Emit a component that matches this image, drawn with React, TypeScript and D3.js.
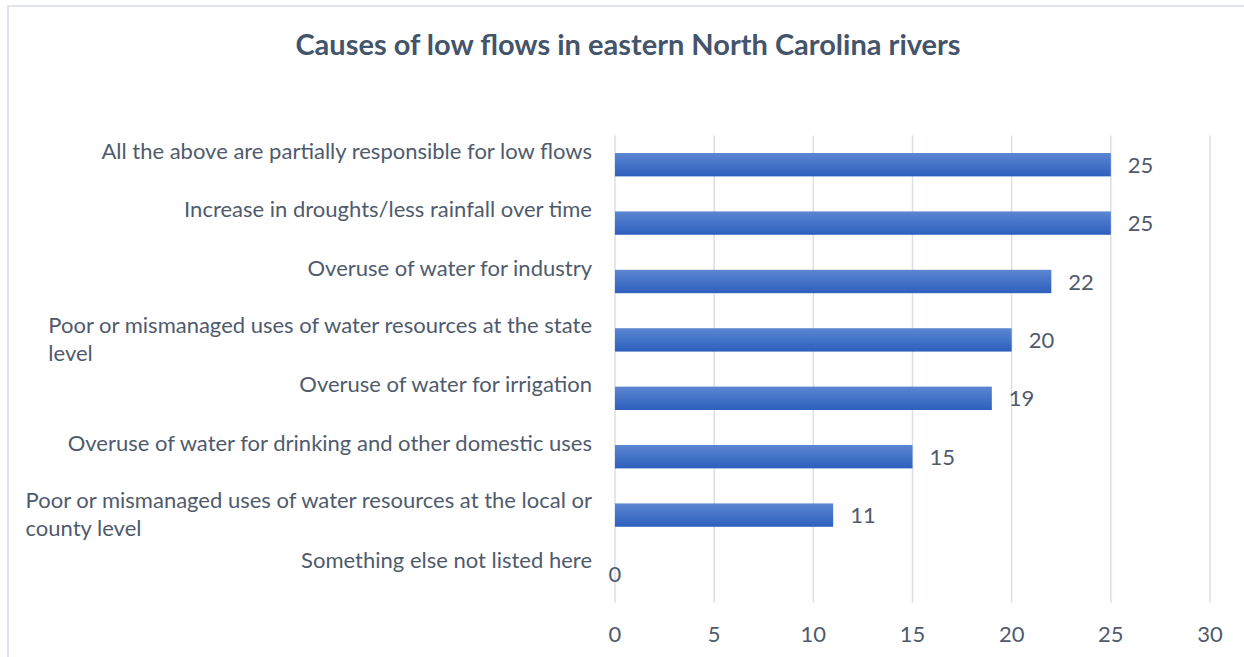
import React, { useEffect, useRef } from 'react';
import * as d3 from 'd3';

const title = 'Causes of low flows in eastern North Carolina rivers';

const causes = [
  'All the above are partially responsible for low flows',
  'Increase in droughts/less rainfall over time',
  'Overuse of water for industry',
  'Poor or mismanaged uses of water resources at the state level',
  'Overuse of water for irrigation',
  'Overuse of water for drinking and other domestic uses',
  'Poor or mismanaged uses of water resources at the local or county level',
  'Something else not listed here',
];

const counts = [25, 25, 22, 20, 19, 15, 11, 0];

const xTicks = [0, 5, 10, 15, 20, 25, 30];

const W = 1244;
const H = 657;
const FONT = "Lato, 'Open Sans', sans-serif";
const TEXT = '#4f5b6d';
const FS = 22;

const App = () => {
  const ref = useRef<SVGSVGElement>(null);

  useEffect(() => {
    const svg = d3.select(ref.current);
    svg.selectAll('*').remove();

    const left = 615;
    const right = 1210;
    const top = 135.5;
    const bottom = 602.7;

    const x = d3.scaleLinear().domain([0, 30]).range([left, right]);
    const y = d3.scaleBand().domain(causes).range([top, bottom]).paddingInner(0.6).paddingOuter(0.3);

    // gradient for bars
    const defs = svg.append('defs');
    const grad = defs.append('linearGradient')
      .attr('id', 'barGrad')
      .attr('x1', 0).attr('y1', 0).attr('x2', 0).attr('y2', 1);
    grad.append('stop').attr('offset', '0%').attr('stop-color', '#5b86d2');
    grad.append('stop').attr('offset', '100%').attr('stop-color', '#2d5fbd');

    // outer frame
    svg.append('rect')
      .attr('x', 8).attr('y', 6)
      .attr('width', W + 10).attr('height', H + 10)
      .attr('fill', '#fff')
      .attr('stroke', '#e1e4ee')
      .attr('stroke-width', 2);

    svg.append('text')
      .attr('x', 628).attr('y', 54.5)
      .attr('text-anchor', 'middle')
      .attr('font-family', FONT)
      .attr('font-size', 29)
      .attr('font-weight', 700)
      .attr('fill', '#44546a')
      .text(title);

    // gridlines
    svg.append('g')
      .selectAll('line')
      .data(xTicks)
      .enter()
      .append('line')
      .attr('x1', d => x(d)).attr('x2', d => x(d))
      .attr('y1', top).attr('y2', bottom)
      .attr('stroke', '#dadfe8')
      .attr('stroke-width', 1.5);

    // x tick labels
    svg.append('g')
      .selectAll('text')
      .data(xTicks)
      .enter()
      .append('text')
      .attr('x', d => x(d))
      .attr('y', 642)
      .attr('text-anchor', 'middle')
      .attr('font-family', FONT)
      .attr('font-size', FS)
      .attr('fill', TEXT)
      .text(d => d);

    // bars
    const rows = causes.map((c, i) => ({ cause: c, value: counts[i] }));
    const bw = y.bandwidth();
    const cy = (c: string) => (y(c) as number) + bw / 2;

    svg.append('g')
      .selectAll('rect')
      .data(rows)
      .enter()
      .append('rect')
      .attr('x', x(0))
      .attr('y', d => y(d.cause) as number)
      .attr('width', d => x(d.value) - x(0))
      .attr('height', bw)
      .attr('fill', 'url(#barGrad)');

    // value labels
    svg.append('g')
      .selectAll('text')
      .data(rows)
      .enter()
      .append('text')
      .attr('x', d => d.value === 0 ? x(0) : x(d.value) + 17)
      .attr('y', d => cy(d.cause) + 8)
      .attr('text-anchor', d => d.value === 0 ? 'middle' : 'start')
      .attr('font-family', FONT)
      .attr('font-size', FS)
      .attr('fill', TEXT)
      .text(d => d.value);

    // category labels, wrapped to the label column
    const maxW = 568;
    const lineH = 28;
    const labels = svg.append('g');
    rows.forEach(d => {
      const t = labels.append('text')
        .attr('font-family', FONT)
        .attr('font-size', FS)
        .attr('fill', TEXT);
      const words = d.cause.split(' ');
      const lines: string[] = [];
      let cur = '';
      const probe = t.append('tspan');
      words.forEach(w => {
        const test = cur ? cur + ' ' + w : w;
        probe.text(test);
        if ((probe.node() as SVGTSpanElement).getComputedTextLength() > maxW && cur) {
          lines.push(cur);
          cur = w;
        } else {
          cur = test;
        }
      });
      lines.push(cur);
      probe.remove();

      const c = cy(d.cause);
      if (lines.length === 1) {
        t.attr('x', 592).attr('y', c - 6).attr('text-anchor', 'end').text(lines[0]);
      } else {
        const tmp = t.append('tspan').text(lines[0]);
        const w0 = (tmp.node() as SVGTSpanElement).getComputedTextLength();
        tmp.remove();
        const x0 = 592 - w0;
        lines.forEach((ln, k) => {
          t.append('tspan')
            .attr('x', x0)
            .attr('y', c - ((lines.length - 1) * lineH) / 2 + k * lineH + 7)
            .text(ln);
        });
      }
    });
  }, []);

  return (
    <svg
      ref={ref}
      width={W}
      height={H}
      style={{ position: 'absolute', left: 0, top: 0, display: 'block', background: '#fff' }}
    />
  );
};

export default App;
